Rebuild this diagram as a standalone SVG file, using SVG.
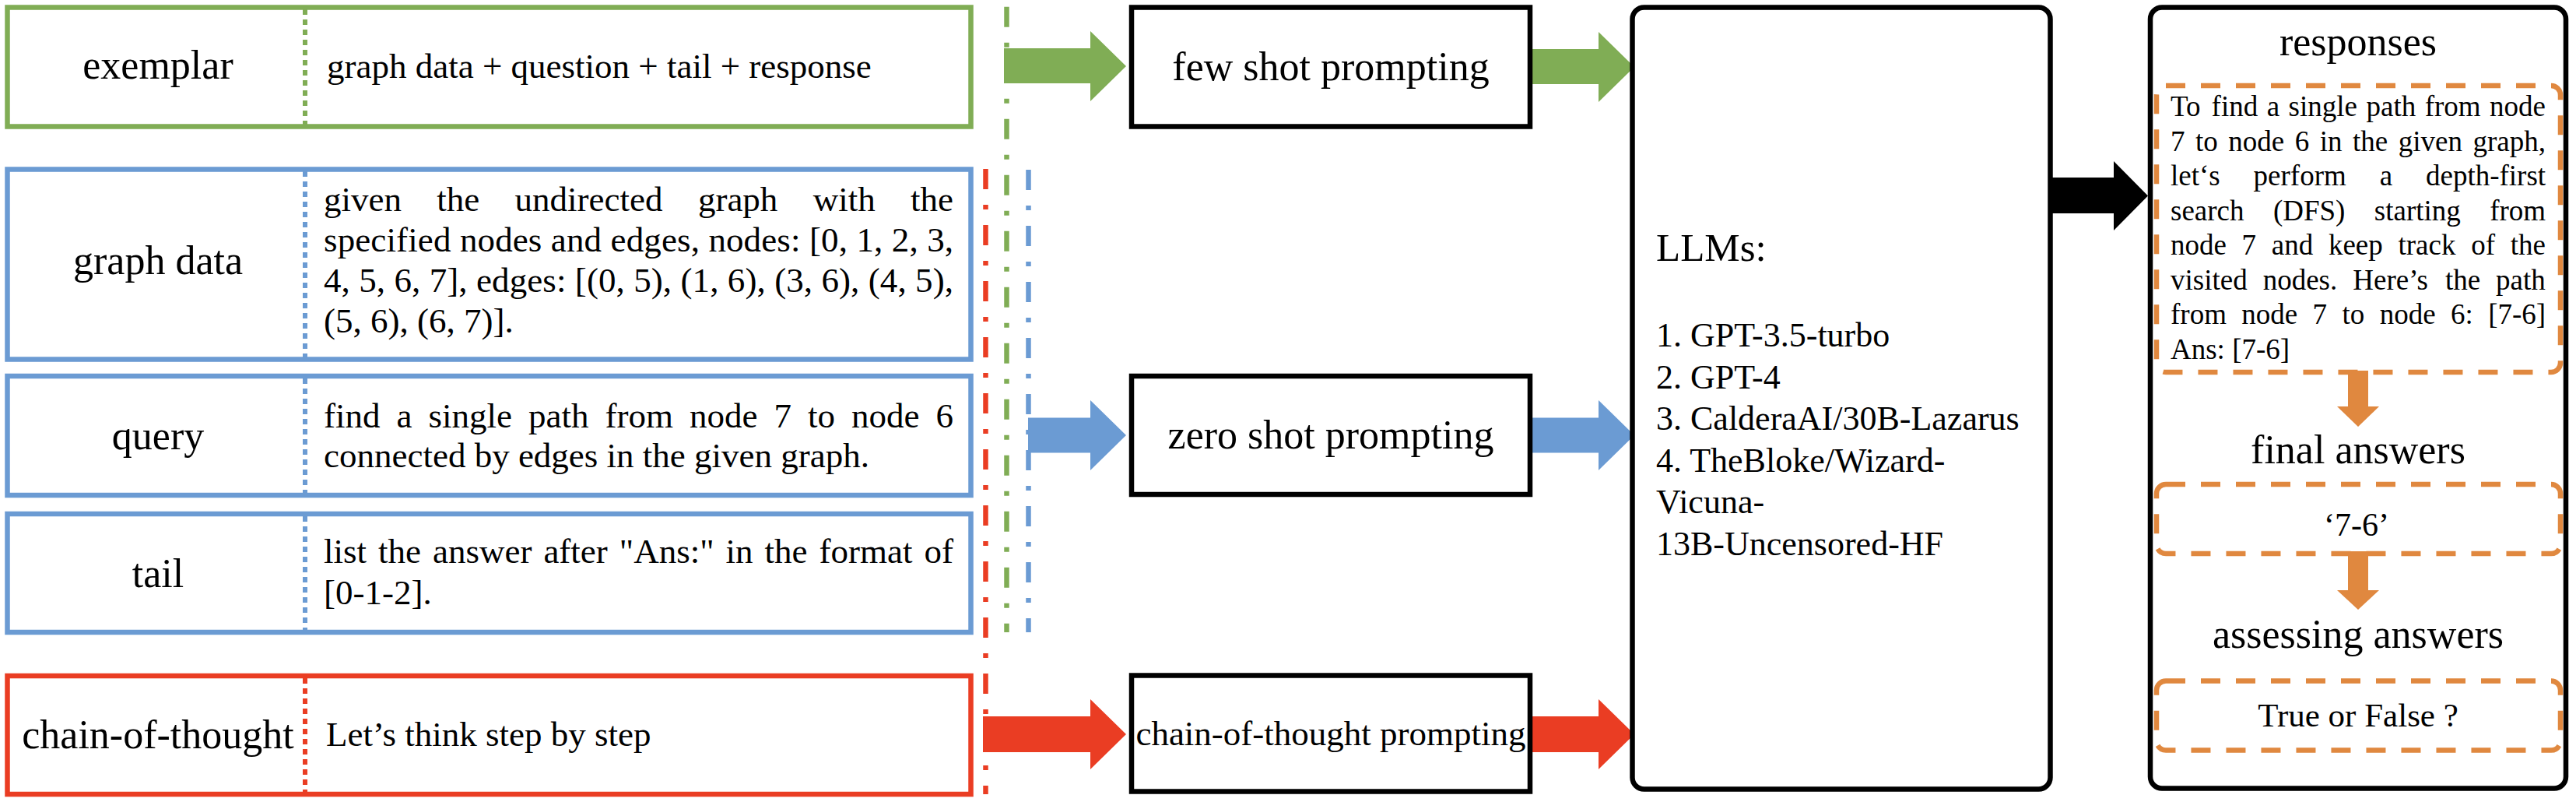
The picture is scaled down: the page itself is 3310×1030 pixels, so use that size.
<svg xmlns="http://www.w3.org/2000/svg" width="3310" height="1030" viewBox="0 0 3310 1030">
<style>
text { font-family: "Liberation Serif", "Times New Roman", serif; fill: #000; }
.lbl { font-size: 52px; text-anchor: middle; }
.txt { font-size: 45px; }
.resp { font-size: 37px; }
.llm { font-size: 44px; }
.bx { fill: #fff; stroke-width: 6.5; }
.g { stroke: #80AD55; }
.b { stroke: #6B9BD3; }
.r { stroke: #EA3D23; }
.k { fill: #fff; stroke: #000; stroke-width: 6.5; }
.div { stroke-width: 6; stroke-dasharray: 7 6; fill: none; }
.dd { stroke-width: 6.5; stroke-dasharray: 26 20 6 20; fill: none; }
.ob { fill: none; stroke: #E0883F; stroke-width: 6.5; stroke-dasharray: 25 20; }
</style>

<g id="connectors">
  <line class="dd g" x1="1293.5" y1="8.7" x2="1293.5" y2="812"/>
  <line class="dd r" x1="1266.5" y1="217" x2="1266.5" y2="1020"/>
  <line class="dd b" x1="1321.5" y1="218" x2="1321.5" y2="812"/>
  <polygon fill="#80AD55" points="1290,62 1401,62 1401,40 1447,85 1401,130 1401,107 1290,107"/>
  <polygon fill="#80AD55" points="1969,63 2054,63 2054,41 2100,86 2054,131 2054,108 1969,108"/>
  <polygon fill="#6B9BD3" points="1321,536.5 1401,536.5 1401,514 1447,559 1401,604 1401,581.5 1321,581.5"/>
  <polygon fill="#6B9BD3" points="1969,536.5 2054,536.5 2054,514 2100,559 2054,604 2054,581.5 1969,581.5"/>
  <polygon fill="#EA3D23" points="1263,920 1401,920 1401,898 1447,943 1401,988 1401,966 1263,966"/>
  <polygon fill="#EA3D23" points="1969,920 2054,920 2054,898 2100,943 2054,988 2054,966 1969,966"/>
  <polygon fill="#000" points="2637,228 2716,228 2716,207 2760,251.5 2716,296 2716,274 2637,274"/>
</g>

<g id="exemplar">
  <rect class="bx g" x="9.5" y="9.5" width="1238" height="153"/>
  <line class="div g" x1="392" y1="12" x2="392" y2="160"/>
  <text class="lbl" x="203" y="101">exemplar</text>
  <text class="txt" x="420" y="100">graph data + question + tail + response</text>
</g>

<g id="graph-data">
  <rect class="bx b" x="9.5" y="217.5" width="1238" height="244"/>
  <line class="div b" x1="392" y1="220" x2="392" y2="459"/>
  <text class="lbl" x="203" y="352">graph data</text>
  <text class="txt" y="271"><tspan x="416">given</tspan><tspan x="561.3">the</tspan><tspan x="661.6">undirected</tspan><tspan x="896.9">graph</tspan><tspan x="1044.7">with</tspan><tspan x="1170">the</tspan></text>
  <text class="txt" x="416" y="323" textLength="809" lengthAdjust="spacing">specified nodes and edges, nodes: [0, 1, 2, 3,</text>
  <text class="txt" x="416" y="375" textLength="809" lengthAdjust="spacing">4, 5, 6, 7], edges: [(0, 5), (1, 6), (3, 6), (4, 5),</text>
  <text class="txt" x="416" y="427">(5, 6), (6, 7)].</text>
</g>

<g id="query">
  <rect class="bx b" x="9.5" y="483" width="1238" height="153"/>
  <line class="div b" x1="392" y1="486" x2="392" y2="633"/>
  <text class="lbl" x="203" y="577">query</text>
  <text class="txt" y="549"><tspan x="416">find</tspan><tspan x="509.5">a</tspan><tspan x="550.5">single</tspan><tspan x="679">path</tspan><tspan x="777.5">from</tspan><tspan x="886">node</tspan><tspan x="994.5">7</tspan><tspan x="1038">to</tspan><tspan x="1094">node</tspan><tspan x="1202.5">6</tspan></text>
  <text class="txt" x="416" y="600">connected by edges in the given graph.</text>
</g>

<g id="tail">
  <rect class="bx b" x="9.5" y="660" width="1238" height="152"/>
  <line class="div b" x1="392" y1="663" x2="392" y2="809"/>
  <text class="lbl" x="203" y="754">tail</text>
  <text class="txt" y="723"><tspan x="416">list</tspan><tspan x="486">the</tspan><tspan x="556">answer</tspan><tspan x="698.4">after</tspan><tspan x="795.8">"Ans:"</tspan><tspan x="932.5">in</tspan><tspan x="982.5">the</tspan><tspan x="1052.5">format</tspan><tspan x="1187.5">of</tspan></text>
  <text class="txt" x="416" y="776">[0-1-2].</text>
</g>

<g id="chain-of-thought">
  <rect class="bx r" x="9.5" y="868" width="1238" height="152"/>
  <line class="div r" x1="392" y1="871" x2="392" y2="1017"/>
  <text class="lbl" x="203" y="961">chain-of-thought</text>
  <text class="txt" x="419" y="958">Let’s think step by step</text>
</g>

<g id="few-shot-prompting">
  <rect class="k" x="1454" y="9.5" width="512" height="153"/>
  <text class="lbl" x="1710" y="103">few shot prompting</text>
</g>

<g id="zero-shot-prompting">
  <rect class="k" x="1454" y="483" width="512" height="152"/>
  <text class="lbl" x="1710" y="576">zero shot prompting</text>
</g>

<g id="cot-prompting">
  <rect class="k" x="1454" y="867.5" width="512" height="149"/>
  <text class="lbl" x="1710" y="957" style="font-size:45px">chain-of-thought prompting</text>
</g>

<g id="llms">
  <rect class="k" x="2097.5" y="9.5" width="537" height="1004" rx="15"/>
  <text x="2128" y="335" style="font-size:51px">LLMs:</text>
  <text class="llm" x="2128" y="445">1. GPT-3.5-turbo</text>
  <text class="llm" x="2128" y="498.5">2. GPT-4</text>
  <text class="llm" x="2128" y="552">3. CalderaAI/30B-Lazarus</text>
  <text class="llm" x="2128" y="605.5">4. TheBloke/Wizard-</text>
  <text class="llm" x="2128" y="659">Vicuna-</text>
  <text class="llm" x="2128" y="712.5">13B-Uncensored-HF</text>
</g>

<g id="responses">
  <rect class="k" x="2763" y="9.5" width="534" height="1003" rx="15"/>
  <text class="lbl" x="3030" y="71">responses</text>
  <rect class="ob" x="2771" y="110" width="519" height="368" rx="12"/>
  <text class="resp" y="149"><tspan x="2789">To</tspan><tspan x="2841.6">find</tspan><tspan x="2912.7">a</tspan><tspan x="2940.6">single</tspan><tspan x="3040.5">path</tspan><tspan x="3115.7">from</tspan><tspan x="3199.1">node</tspan></text>
  <text class="resp" y="193.5"><tspan x="2789">7</tspan><tspan x="2821">to</tspan><tspan x="2863.3">node</tspan><tspan x="2948.7">6</tspan><tspan x="2980.7">in</tspan><tspan x="3023">the</tspan><tspan x="3081.7">given</tspan><tspan x="3177.4">graph,</tspan></text>
  <text class="resp" y="238"><tspan x="2789">let‘s</tspan><tspan x="2895.6">perform</tspan><tspan x="3057.7">a</tspan><tspan x="3117">depth-first</tspan></text>
  <text class="resp" y="282.5"><tspan x="2789">search</tspan><tspan x="2920.9">(DFS)</tspan><tspan x="3050.8">starting</tspan><tspan x="3199.2">from</tspan></text>
  <text class="resp" y="327"><tspan x="2789">node</tspan><tspan x="2880.6">7</tspan><tspan x="2918.8">and</tspan><tspan x="2991.9">keep</tspan><tspan x="3081.5">track</tspan><tspan x="3175.2">of</tspan><tspan x="3225.7">the</tspan></text>
  <text class="resp" y="371.5"><tspan x="2789">visited</tspan><tspan x="2907.7">nodes.</tspan><tspan x="3023.3">Here’s</tspan><tspan x="3141.9">the</tspan><tspan x="3207.1">path</tspan></text>
  <text class="resp" y="416"><tspan x="2789">from</tspan><tspan x="2880.3">node</tspan><tspan x="2971.6">7</tspan><tspan x="3009.5">to</tspan><tspan x="3057.7">node</tspan><tspan x="3149">6:</tspan><tspan x="3197.2">[7-6]</tspan></text>
  <text class="resp" x="2789" y="460.5">Ans: [7-6]</text>
  <polygon fill="#E0883F" points="3017,476 3043,476 3043,522 3057,522 3030,548 3003,522 3017,522"/>
  <text class="lbl" x="3030" y="595">final answers</text>
  <rect class="ob" x="2771" y="622" width="519" height="89" rx="12"/>
  <text x="3028" y="688" style="font-size:42px;text-anchor:middle">‘7-6’</text>
  <polygon fill="#E0883F" points="3017,708 3043,708 3043,758 3057,758 3030,783 3003,758 3017,758"/>
  <text class="lbl" x="3030" y="832">assessing answers</text>
  <rect class="ob" x="2771" y="874.5" width="519" height="89" rx="12"/>
  <text x="3030" y="933" style="font-size:43px;text-anchor:middle">True or False ?</text>
</g>
</svg>
